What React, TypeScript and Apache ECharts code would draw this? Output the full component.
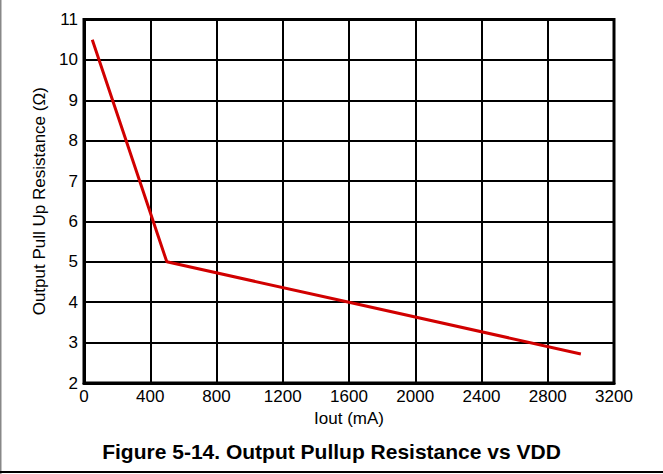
import React, { useEffect, useRef } from "react";
import * as echarts from "echarts";

const currentMA = [50, 500, 1600, 3000];
const resistance = [10.5, 5.0, 4.0, 2.72];
const xTicks = { min: 0, max: 3200, interval: 400 };
const yTicks = { min: 2, max: 11, interval: 1 };
const title = "Figure 5-14. Output Pullup Resistance vs VDD";
const xName = "Iout (mA)";
const yName = "Output Pull Up Resistance (Ω)";

export default function App() {
  const ref = useRef<HTMLDivElement>(null);
  useEffect(() => {
    if (!ref.current) return;
    const chart = echarts.init(ref.current, null, { renderer: "svg" });
    const font = "'Liberation Sans', Arial, sans-serif";
    chart.setOption({
      animation: false,
      backgroundColor: "#fff",
      grid: {
        left: 84,
        top: 19.5,
        width: 530,
        height: 363.5,
        show: true,
        borderColor: "#000",
        borderWidth: 3,
        containLabel: false,
      },
      title: {
        text: title,
        left: "center",
        top: 436,
        textStyle: { fontFamily: font, fontSize: 21, fontWeight: "bold", color: "#000" },
      },
      xAxis: {
        type: "value",
        min: xTicks.min,
        max: xTicks.max,
        interval: xTicks.interval,
        name: xName,
        nameLocation: "middle",
        nameGap: 17,
        nameTextStyle: { fontFamily: font, fontSize: 17, color: "#000" },
        axisLine: { show: true, lineStyle: { color: "#000", width: 3 } },
        axisTick: { show: false },
        axisLabel: { fontFamily: font, fontSize: 17, color: "#000", margin: 5, formatter: (v: number) => String(v) },
        splitLine: { show: true, lineStyle: { color: "#000", width: 2 } },
      },
      yAxis: {
        type: "value",
        min: yTicks.min,
        max: yTicks.max,
        interval: yTicks.interval,
        name: yName,
        nameLocation: "middle",
        nameGap: 36,
        nameTextStyle: { fontFamily: font, fontSize: 17, color: "#000" },
        axisLine: { show: true, lineStyle: { color: "#000", width: 3 } },
        axisTick: { show: false },
        axisLabel: { fontFamily: font, fontSize: 17, color: "#000", margin: 6, formatter: (v: number) => String(v) },
        splitLine: { show: true, lineStyle: { color: "#000", width: 2 } },
      },
      graphic: [
        { type: "line", shape: { x1: 0.5, y1: 0, x2: 0.5, y2: 474 }, style: { stroke: "#888", lineWidth: 2 } },
        { type: "line", shape: { x1: 0, y1: 472, x2: 663, y2: 472 }, style: { stroke: "#000", lineWidth: 2 } },
      ],
      series: [
        {
          type: "line",
          data: currentMA.map((x, i) => [x, resistance[i]]),
          symbol: "none",
          lineStyle: { color: "#d10000", width: 3 },
        },
      ],
    });
    return () => chart.dispose();
  }, []);
  return <div ref={ref} style={{ position: "absolute", left: 0, top: 0, width: 663, height: 474 }} />;
}
